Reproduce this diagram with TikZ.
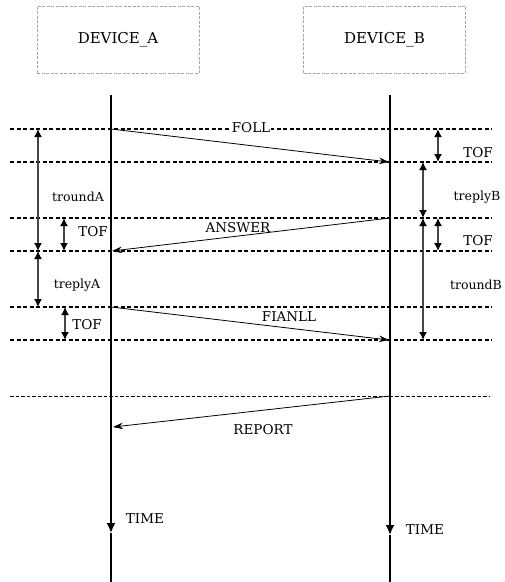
\documentclass[tikz,border=0pt]{standalone}
\usepackage{fontspec}
\setmainfont{DejaVu Serif}
\usetikzlibrary{arrows.meta}
\begin{document}
\begin{tikzpicture}[x=1pt,y=-1pt,
  devbox/.style={draw=gray!70, dash pattern=on 3pt off 1.5pt, line width=0.8pt, minimum width=162pt, minimum height=67pt, inner sep=0pt, font=\fontsize{15}{15}\selectfont},
  lifeline/.style={line width=1.7pt},
  sepline/.style={line width=1.4pt, dash pattern=on 4pt off 2.5pt},
  thinsep/.style={line width=0.6pt, dash pattern=on 3.5pt off 2pt},
  msg/.style={line width=0.8pt, -{Stealth[length=10pt,width=6.5pt]}},
  span/.style={line width=1.5pt, draw=gray!55!black, {Latex[length=8pt,width=8pt,color=black]}-{Latex[length=8pt,width=8pt,color=black]}},
  caplbl/.style={font=\fontsize{13.5}{13.5}\selectfont, inner sep=1pt},
  tlbl/.style={font=\fontsize{12.5}{12.5}\selectfont, inner sep=1pt}
]
\useasboundingbox (0,0) rectangle (505,582);

% device boxes
\node[devbox] (devA) at (118,39.5) {DEVICE\_A};
\node[devbox] (devB) at (384.5,39.5) {DEVICE\_B};

% separator lines
\foreach \n/\y in {1/129,2/162,3/218,4/251,5/307,6/340}{
  \coordinate (L\n) at (10,\y);
  \coordinate (R\n) at (492,\y);
  \draw[sepline] (L\n) -- (R\n);
}
\coordinate (L7) at (10,396);
\coordinate (R7) at (490,396);
\draw[thinsep] (L7) -- (R7);

% lifelines
\coordinate (Atop) at (111,95);
\coordinate (Aarr) at (111,533);
\coordinate (Abot) at (111,582);
\coordinate (Btop) at (390,95);
\coordinate (Barr) at (390,535);
\coordinate (Bbot) at (390,582);
\draw[lifeline,-{Latex[length=10pt,width=9pt]}] (Atop) -- (Aarr);
\draw[lifeline] (Aarr) -- (Abot);
\draw[lifeline,-{Latex[length=10pt,width=9pt]}] (Btop) -- (Barr);
\draw[lifeline] (Barr) -- (Bbot);

% message points
\coordinate (Ap1) at (111,129);
\coordinate (Bp1) at (389,162);
\coordinate (Bp2) at (390,218);
\coordinate (Ap2) at (112,251);
\coordinate (Ap3) at (111,307);
\coordinate (Bp3) at (389,340);
\coordinate (Bp4) at (390,396);
\coordinate (Ap4) at (113,427);

\draw[msg] (Ap1) -- (Bp1);
\draw[msg] (Bp2) -- (Ap2);
\draw[msg] (Ap3) -- (Bp3);
\draw[msg] (Bp4) -- (Ap4);

\node[caplbl, fill=white] (poll) at (251,128) {FOLL};
\node[caplbl] (answer) at (238,228) {ANSWER};
\node[caplbl] (final) at (289,317) {FIANLL};
\node[caplbl] (report) at (263,430) {REPORT};

% left span arrows
\coordinate (la1) at (38,129);  \coordinate (la2) at (38,251);
\coordinate (lb1) at (64,218);  \coordinate (lb2) at (64,251);
\coordinate (lc1) at (38,251);  \coordinate (lc2) at (38,307);
\coordinate (ld1) at (65,307);  \coordinate (ld2) at (65,340);
\draw[span] (la1) -- (la2);
\draw[span] (lb1) -- (lb2);
\draw[span] (lc1) -- (lc2);
\draw[span] (ld1) -- (ld2);
\node[tlbl] (troundA) at (78,197) {troundA};
\node[caplbl] (tofA1) at (93,232) {TOF};
\node[tlbl] (treplyA) at (77,285) {treplyA};
\node[caplbl] (tofA2) at (87,325) {TOF};

% right span arrows
\coordinate (ra1) at (438,129); \coordinate (ra2) at (438,162);
\coordinate (rb1) at (423,162); \coordinate (rb2) at (423,218);
\coordinate (rc1) at (438,218); \coordinate (rc2) at (438,251);
\coordinate (rd1) at (423,218); \coordinate (rd2) at (423,340);
\draw[span] (ra1) -- (ra2);
\draw[span] (rb1) -- (rb2);
\draw[span] (rc1) -- (rc2);
\draw[span] (rd1) -- (rd2);
\node[caplbl] (tofB1) at (478,153) {TOF};
\node[tlbl] (treplyB) at (477,197) {treplyB};
\node[caplbl] (tofB2) at (478,241) {TOF};
\node[tlbl] (troundB) at (476,285) {troundB};

% time labels
\node[caplbl] (timeA) at (145,519) {TIME};
\node[caplbl] (timeB) at (425,530) {TIME};
\end{tikzpicture}
\end{document}
